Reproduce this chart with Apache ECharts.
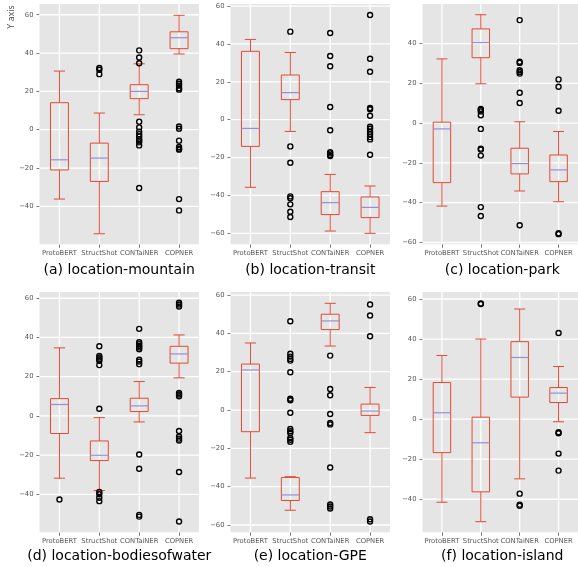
<!DOCTYPE html>
<html><head><meta charset="utf-8">
<script src="https://cdn.jsdelivr.net/npm/echarts@6/dist/echarts.min.js"></script>
<style>html,body{margin:0;padding:0;background:#fff}#c{width:578px;height:567px}</style>
</head><body><div id="c"></div><script>
const categories = ['ProtoBERT', 'StructShot', 'CONTaiNER', 'COPNER'];
const panelTitles = ['(a) location-mountain', '(b) location-transit', '(c) location-park',
  '(d) location-bodiesofwater', '(e) location-GPE', '(f) location-island'];

// box stats per category: [low whisker, Q1, median, Q3, high whisker]
const boxA = [[-36.2, -21.0, -15.7, 14.1, 30.6], [-54.3, -27.0, -14.8, -7.0, 8.7], [7.8, 16.2, 20.0, 23.5, 34.4], [39.5, 42.3, 48.0, 51.1, 59.7]];
const fliersA = [[], [32.2, 31.3, 29.0], [41.4, 37.7, 34.7, 4.2, 1.2, -1.0, -2.3, -3.5, -4.9, -5.6, -6.6, -8.2, -30.4], [25.0, 24.0, 23.0, 21.6, 20.9, 1.7, 0.5, -5.7, -9.0, -9.9, -10.4, -36.2, -42.1]];

const boxB = [[-35.7, -14.1, -4.6, 36.1, 42.4], [-6.2, 10.6, 14.3, 23.6, 35.5], [-58.8, -50.1, -43.8, -38.0, -28.9], [-60.0, -51.7, -46.3, -40.8, -35.0]];
const fliersB = [[], [46.5, -14.1, -22.7, -40.5, -41.5, -44.7, -48.6, -51.4], [45.8, 33.6, 28.2, 6.7, -5.6, -17.1, -17.8, -18.7, -19.2], [55.3, 32.2, 25.3, 6.2, 5.5, 2.1, -3.7, -4.8, -6.3, -7.7, -9.2, -10.4, -18.5]];

const boxC = [[-41.7, -29.9, -2.9, 0.5, 32.3], [19.8, 32.9, 40.5, 47.4, 54.5], [-34.1, -25.5, -20.3, -12.6, 0.7], [-39.5, -29.4, -23.5, -16.0, -4.2]];
const fliersC = [[], [7.2, 6.6, 5.9, 4.0, -2.9, -12.8, -13.3, -16.3, -42.2, -46.7], [51.8, 30.9, 30.3, 26.6, 25.7, 24.9, 15.3, 10.1, -51.3], [22.0, 18.3, 6.2, -55.3, -55.8]];

const boxD = [[-31.8, -9.0, 5.8, 8.8, 34.7], [-38.1, -22.8, -20.1, -12.8, -0.9], [-3.1, 2.2, 5.1, 9.0, 17.5], [19.4, 26.9, 31.6, 35.5, 41.3]];
const fliersD = [[-42.7], [35.5, 30.6, 29.8, 28.9, 28.1, 25.9, 3.6, -38.8, -40.0, -41.8, -43.5], [44.4, 37.6, 36.6, 35.7, 34.9, 34.0, 28.6, 27.7, 26.4, -19.7, -27.0, -50.5, -51.4], [57.7, 56.8, 55.8, 11.7, 10.9, 10.0, -7.7, -10.5, -11.6, -12.6, -28.6, -53.9]];

const boxE = [[-35.5, -11.3, 20.9, 24.0, 35.0], [-52.3, -47.2, -44.3, -35.2, -34.8], [33.4, 42.0, 46.5, 50.0, 55.7], [-11.8, -2.8, -0.5, 3.1, 11.8]];
const fliersE = [[], [46.3, 29.4, 27.9, 26.7, 25.8, 19.7, 5.9, 5.1, -1.4, -9.9, -11.1, -12.0, -14.6, -15.5, -16.6], [28.4, 11.0, 7.7, -2.1, -6.8, -7.5, -30.0, -49.3, -50.3, -51.4], [55.1, 49.3, 38.5, -57.0, -58.2]];

const boxF = [[-41.5, -16.7, 3.2, 18.3, 31.8], [-51.2, -36.3, -11.8, 1.0, 40.0], [-29.8, 11.0, 30.8, 38.7, 55.0], [-1.3, 8.3, 13.0, 15.8, 26.3]];
const fliersF = [[], [57.8, 57.5], [-37.2, -42.7, -43.3], [43.0, -6.5, -7.0, -17.2, -25.7]];

const yRangeA = [-59.8, 65.6], yRangeB = [-65.8, 61.1], yRangeC = [-60.9, 59.9];
const yRangeD = [-59.4, 63.2], yRangeE = [-63.8, 61.6], yRangeF = [-56.5, 63.5];
const yTicksA = [-40, -20, 0, 20, 40, 60];
const yTicksB = [-60, -40, -20, 0, 20, 40, 60];
const yTicksC = [-60, -40, -20, 0, 20, 40];
const yTicksD = [-40, -20, 0, 20, 40, 60];
const yTicksE = [-60, -40, -20, 0, 20, 40, 60];
const yTicksF = [-40, -20, 0, 20, 40, 60];
const yAxisName = 'Y axis';

const panels = [
  [boxA, fliersA, yRangeA, yTicksA], [boxB, fliersB, yRangeB, yTicksB], [boxC, fliersC, yRangeC, yTicksC],
  [boxD, fliersD, yRangeD, yTicksD], [boxE, fliersE, yRangeE, yTicksE], [boxF, fliersF, yRangeF, yTicksF]
];

const FONT = '"DejaVu Sans", sans-serif';
const RED = '#E24A33', MED = '#988ED5', TXT = '#555555';
const colLeft = [39.5, 230.5, 422.5], rowTop = [4, 292], W = 159.5, H = 240.3;

function renderBox(params, api) {
  const c = api.value(0);
  const p = [1, 2, 3, 4, 5].map(i => api.coord([c, api.value(i)]));
  const band = api.size([1, 0])[0];
  const x = p[0][0];
  const hb = band * 0.225, hc = band * 0.14;
  const st = { stroke: RED, lineWidth: 1, fill: null };
  return { type: 'group', children: [
    { type: 'line', shape: { x1: x, y1: p[0][1], x2: x, y2: p[1][1] }, style: st },
    { type: 'line', shape: { x1: x, y1: p[3][1], x2: x, y2: p[4][1] }, style: st },
    { type: 'line', shape: { x1: x - hc, y1: p[0][1], x2: x + hc, y2: p[0][1] }, style: st },
    { type: 'line', shape: { x1: x - hc, y1: p[4][1], x2: x + hc, y2: p[4][1] }, style: st },
    { type: 'rect', shape: { x: x - hb, y: p[3][1], width: 2 * hb, height: p[1][1] - p[3][1] }, style: { stroke: RED, lineWidth: 1, fill: null } },
    { type: 'line', shape: { x1: x - hb, y1: p[2][1], x2: x + hb, y2: p[2][1] }, style: { stroke: MED, lineWidth: 1.2 } }
  ] };
}
// ggplot-style panel: gray background plus white grid lines at ticks and categories
function makePanelRenderer(yt, yr) {
  return function (params, api) {
    if (params.dataIndex !== 0) return null;
    const cs = params.coordSys;
    const children = [{ type: 'rect', shape: { x: cs.x, y: cs.y, width: cs.width, height: cs.height },
      style: { fill: '#E5E5E5' }, z2: 0 }];
    yt.forEach(v => {
      const y = api.coord([0, v])[1];
      children.push({ type: 'line', shape: { x1: cs.x, y1: y, x2: cs.x + cs.width, y2: y },
        style: { stroke: '#FFFFFF', lineWidth: 1.3 }, z2: 5 });
    });
    categories.forEach((c, k) => {
      const x = api.coord([k, yr[0]])[0];
      children.push({ type: 'line', shape: { x1: x, y1: cs.y, x2: x, y2: cs.y + cs.height },
        style: { stroke: '#FFFFFF', lineWidth: 1.3 }, z2: 5 });
    });
    return { type: 'group', children };
  };
}

const grid = [], xAxis = [], yAxis = [], series = [], graphic = [];
panels.forEach((pn, i) => {
  const [box, fl, yr, yt] = pn;
  const left = colLeft[i % 3], top = rowTop[Math.floor(i / 3)];
  grid.push({ left: left, top: top, width: W, height: H, show: false, containLabel: false });
  xAxis.push({ type: 'category', gridIndex: i, data: categories, boundaryGap: true,
    axisLine: { show: false, onZero: false },
    axisTick: { show: true, alignWithLabel: true, length: 3.5, lineStyle: { color: TXT, width: 0.8 } },
    axisLabel: { interval: 0, fontSize: 6.8, color: TXT, margin: 5, fontFamily: FONT },
    splitLine: { show: false } });
  yAxis.push({ type: 'value', gridIndex: i, min: yr[0], max: yr[1], splitNumber: 6,
    axisLine: { show: false, onZero: false },
    axisTick: { show: true, length: 3, customValues: yt, lineStyle: { color: TXT, width: 0.8 } },
    axisLabel: { customValues: yt, fontSize: 6.8, color: TXT, margin: 6, fontFamily: FONT,
      formatter: v => String(v).replace('-', '\u2212') },
    splitLine: { show: false } });
  series.push({ type: 'custom', xAxisIndex: i, yAxisIndex: i, renderItem: makePanelRenderer(yt, yr),
    encode: { x: 0, y: 1 }, silent: true, z: 0, data: [[0, yr[0]]] });
  series.push({ type: 'custom', xAxisIndex: i, yAxisIndex: i, renderItem: renderBox,
    encode: { x: 0, y: [1, 2, 3, 4, 5] }, silent: true, z: 3,
    data: box.map((b, k) => [k].concat(b)) });
  const pts = [];
  fl.forEach((arr, k) => arr.forEach(v => pts.push([k, v])));
  series.push({ type: 'scatter', xAxisIndex: i, yAxisIndex: i, data: pts, symbol: 'circle', symbolSize: 5, z: 4,
    silent: true, itemStyle: { color: 'rgba(0,0,0,0)', borderColor: '#000', borderWidth: 1.4, opacity: 1 } });
  graphic.push({ type: 'text', x: left + W / 2, y: i < 3 ? 270 : 556.5, silent: true,
    style: { text: panelTitles[i], font: '14px ' + FONT, fill: '#000', align: 'center', verticalAlign: 'middle' } });
});
graphic.push({ type: 'text', x: 12, y: 17, rotation: Math.PI / 2, silent: true,
  style: { text: yAxisName, font: '8px ' + FONT, fill: TXT, align: 'center', verticalAlign: 'middle' } });

const chart = echarts.init(document.getElementById('c'), null, { renderer: 'canvas' });
chart.setOption({ animation: false, backgroundColor: '#ffffff', grid, xAxis, yAxis, series,
  graphic: { elements: graphic } });
</script></body></html>
